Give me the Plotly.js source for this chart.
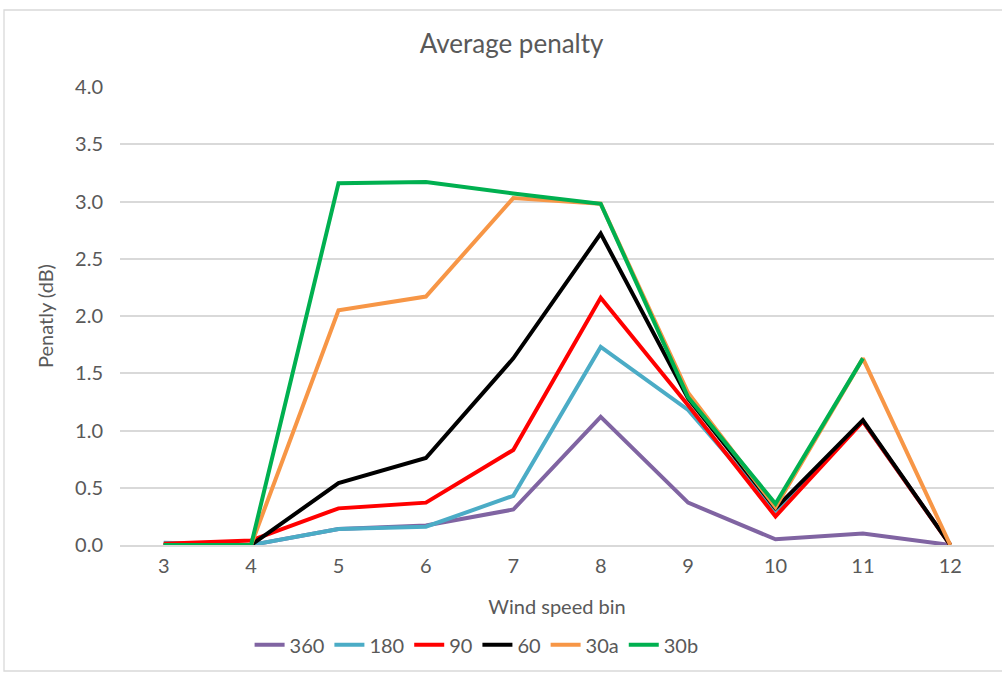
<!DOCTYPE html>
<html>
<head>
<meta charset="utf-8">
<script src="https://cdn.plot.ly/plotly-3.0.1.min.js"></script>
<style>html,body{margin:0;padding:0;background:#fff;}#chart{width:1002px;height:673px;}</style>
</head>
<body>
<div id="chart"></div>
<script>
const windBins = [3, 4, 5, 6, 7, 8, 9, 10, 11, 12];
const seriesNames = ["360", "180", "90", "60", "30a", "30b"];
const s360 = [0.00, 0.00, 0.14, 0.17, 0.31, 1.12, 0.37, 0.05, 0.10, 0.00];
const s180 = [0.02, 0.00, 0.14, 0.16, 0.43, 1.73, 1.18, 0.30, 1.08, 0.00];
const s90  = [0.01, 0.04, 0.32, 0.37, 0.83, 2.16, 1.22, 0.25, 1.08, 0.00];
const s60  = [0.00, 0.00, 0.54, 0.76, 1.63, 2.72, 1.28, 0.32, 1.09, 0.00];
const s30a = [0.00, 0.00, 2.05, 2.17, 3.03, 2.98, 1.33, 0.33, 1.63, 0.00];
const s30b = [0.00, 0.00, 3.16, 3.17, 3.07, 2.98, 1.29, 0.36, 1.63, null];
const seriesValues = [s360, s180, s90, s60, s30a, s30b];
const seriesColors = ["#8064A2", "#4BACC6", "#FF0000", "#000000", "#F79646", "#00B050"];
const yTicks = [0, 0.5, 1, 1.5, 2, 2.5, 3, 3.5, 4];

const fontFam = "Lato, 'Open Sans', sans-serif";
const txtColor = "#595959";

const traces = seriesNames.map((name, i) => ({
  type: "scatter",
  mode: "lines",
  name: name,
  x: windBins,
  y: seriesValues[i],
  line: {color: seriesColors[i], width: 4},
  connectgaps: false,
  hoverinfo: "x+y+name"
}));

const layout = {
  width: 1002,
  height: 673,
  margin: {l: 120, r: 8, t: 87, b: 128},
  paper_bgcolor: "#ffffff",
  plot_bgcolor: "#ffffff",
  font: {family: fontFam, color: txtColor, size: 20},
  title: {
    text: "Average penalty",
    font: {family: fontFam, size: 26, color: txtColor},
    x: 0.448, xref: "paper", xanchor: "center",
    y: 0.935, yref: "container", yanchor: "middle"
  },
  xaxis: {
    range: [2.5, 12.5],
    tickvals: windBins,
    ticktext: windBins.map(String),
    showgrid: false,
    zeroline: false,
    showline: true,
    linecolor: "#d9d9d9",
    linewidth: 1.5,
    ticks: "",
    ticklabelstandoff: 2,
    tickfont: {family: fontFam, size: 20, color: txtColor},
    title: {text: "Wind speed bin", font: {family: fontFam, size: 20, color: txtColor}, standoff: 24}
  },
  yaxis: {
    range: [0, 4],
    tickvals: yTicks,
    tickformat: ".1f",
    showgrid: true,
    gridcolor: "#d9d9d9",
    gridwidth: 1.5,
    zeroline: false,
    showline: false,
    ticks: "",
    ticklabelstandoff: 16,
    tickfont: {family: fontFam, size: 20, color: txtColor},
    title: {text: "Penatly (dB)", font: {family: fontFam, size: 20, color: txtColor}, standoff: 16}
  },
  showlegend: true,
  legend: {
    orientation: "h",
    x: 0.408, xanchor: "center",
    y: -0.218, yanchor: "middle",
    font: {family: fontFam, size: 20, color: txtColor},
    itemwidth: 30,
    tracegroupgap: 0,
    traceorder: "normal",
    bgcolor: "rgba(0,0,0,0)"
  },
  shapes: [{
    type: "rect", xref: "paper", yref: "paper",
    x0: -116/874, x1: 999/874,
    y0: -126/458, y1: (458 + 77) / 458,
    line: {color: "#d9d9d9", width: 1.3},
    fillcolor: "rgba(0,0,0,0)", layer: "below"
  }]
};

Plotly.newPlot("chart", traces, layout, {displayModeBar: false, responsive: false});
</script>
</body>
</html>
